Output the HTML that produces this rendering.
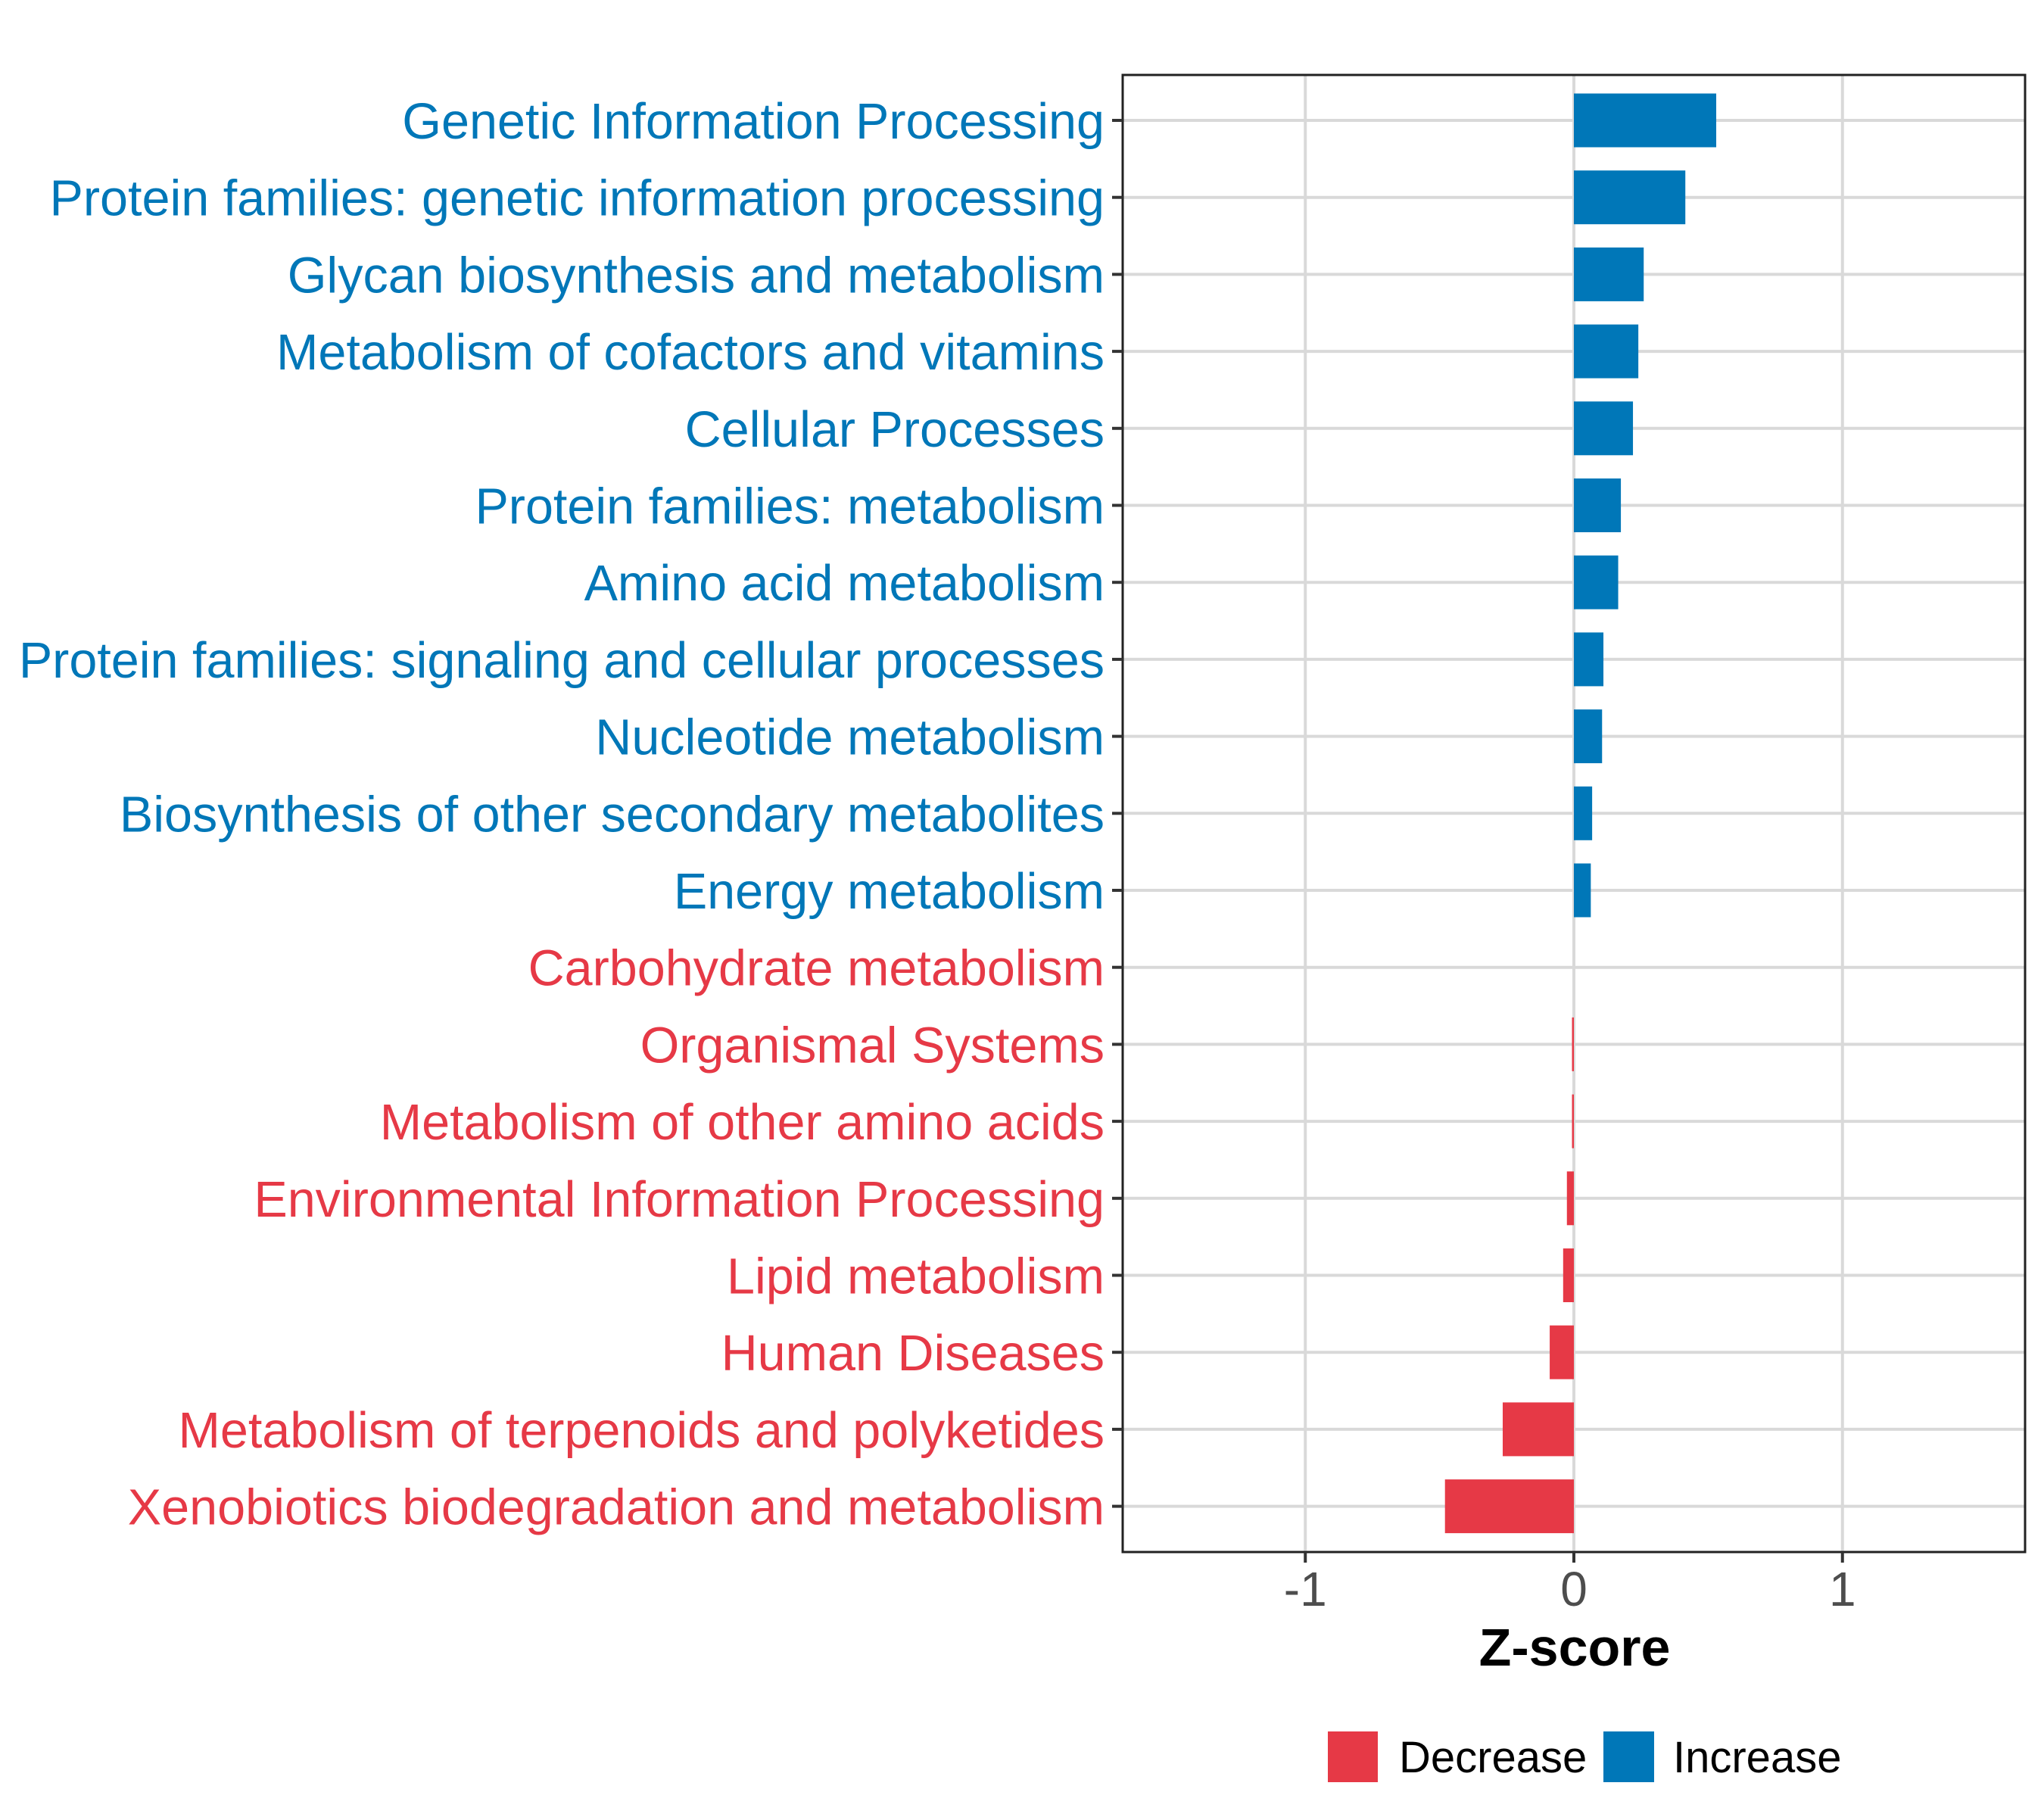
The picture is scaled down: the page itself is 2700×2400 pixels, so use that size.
<!DOCTYPE html>
<html><head><meta charset="utf-8"><style>
html,body{margin:0;padding:0;background:#fff;}
svg{display:block;font-family:"Liberation Sans",sans-serif;}
</style></head><body>
<svg id="chart" width="2700" height="2400" viewBox="0 0 2700 2400">
<rect x="0" y="0" width="2700" height="2400" fill="#fff"/>
<g id="grid"></g>
<g id="bars"></g>
<rect x="1483" y="99" width="1192" height="1951" fill="none" stroke="#222" stroke-width="3"/>
<g id="yaxis"></g>
<g id="xaxis"></g>
<text x="2080" y="2200" text-anchor="middle" font-size="70" font-weight="bold" fill="#000">Z-score</text>
<g>
<rect x="1754" y="2287" width="66" height="67" fill="#E63946"/>
<text x="1848" y="2341" font-size="58" fill="#000">Decrease</text>
<rect x="2118" y="2287" width="67" height="67" fill="#0077B8"/>
<text x="2210" y="2341" font-size="58" fill="#000">Increase</text>
</g>
</svg>
<script>
const categories = ["Genetic Information Processing","Protein families: genetic information processing","Glycan biosynthesis and metabolism","Metabolism of cofactors and vitamins","Cellular Processes","Protein families: metabolism","Amino acid metabolism","Protein families: signaling and cellular processes","Nucleotide metabolism","Biosynthesis of other secondary metabolites","Energy metabolism","Carbohydrate metabolism","Organismal Systems","Metabolism of other amino acids","Environmental Information Processing","Lipid metabolism","Human Diseases","Metabolism of terpenoids and polyketides","Xenobiotics biodegradation and metabolism"];
const zscores = [0.53,0.415,0.26,0.24,0.22,0.175,0.165,0.11,0.105,0.068,0.063,0,-0.007,-0.007,-0.026,-0.04,-0.09,-0.265,-0.48];
const xTicks = [-1,0,1];
const xTickLabels = ["-1","0","1"];
const BLUE="#0077B8", RED="#E63946";
const NS="http://www.w3.org/2000/svg";
const x0=1483,x1=2675,xMin=-1.68,xMax=1.68;
const xs=v=>x0+(v-xMin)/(xMax-xMin)*(x1-x0);
const yTop=159,yStep=101.7;
const ys=i=>yTop+i*yStep;
function mk(tag,attrs,parent){const e=document.createElementNS(NS,tag);for(const k in attrs)e.setAttribute(k,attrs[k]);parent.appendChild(e);return e;}
const grid=document.getElementById('grid'),bars=document.getElementById('bars'),ya=document.getElementById('yaxis'),xa=document.getElementById('xaxis');
xTicks.forEach((t,i)=>{
  const l=mk('line',{x1:xs(t),x2:xs(t),y1:99,y2:2050,stroke:'#D9D9D9','stroke-width':4},grid);
  
  
  const tk=mk('line',{x1:xs(t),x2:xs(t),y1:2050,y2:2064,stroke:'#333','stroke-width':4},xa);
  
  
  const tx=mk('text',{x:xs(t),y:2121,'text-anchor':'middle','font-size':64,fill:'#4D4D4D'},xa);
  tx.textContent=xTickLabels[i];
  
  
});
categories.forEach((c,i)=>{
  const y=ys(i),v=zscores[i],col=v>0?BLUE:RED;
  const g=mk('line',{x1:x0,x2:x1,y1:y,y2:y,stroke:'#D9D9D9','stroke-width':4},grid);
  
  
  const a=Math.min(xs(0),xs(v)),w=Math.abs(xs(v)-xs(0));
  const b=mk('rect',{x:a,y:y-35.5,width:w,height:71,fill:col},bars);
  
  
  const tk=mk('line',{x1:1469,x2:1483,y1:y,y2:y,stroke:'#333','stroke-width':4},ya);
  
  
  const t=mk('text',{x:1459,y:y+24,'text-anchor':'end','font-size':66.5,fill:col},ya);
  t.textContent=c;
  
  
});
</script>
</body></html>
